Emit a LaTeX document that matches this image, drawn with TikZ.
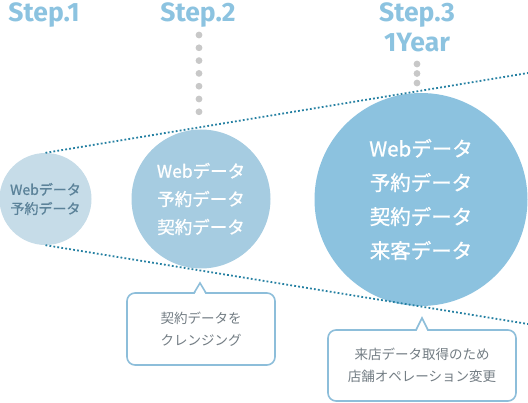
\documentclass[tikz,border=0pt]{standalone}
\usepackage{fontspec}
\setmainfont{Noto Sans CJK JP}
\newfontfamily\cjkmed{Noto Sans CJK JP}[FakeBold=0.9]
\newfontfamily\stepfont{Fira Sans}
\definecolor{steptxt}{HTML}{8CC3E0}
\definecolor{cA}{HTML}{C6DCE8}
\definecolor{cB}{HTML}{A6CCE1}
\definecolor{cC}{HTML}{8CC2DF}
\definecolor{tealdot}{HTML}{2580A2}
\definecolor{dotgray}{HTML}{C8C8C8}
\definecolor{txtA}{HTML}{5B8299}
\definecolor{boxline}{HTML}{8DBEDA}
\definecolor{boxtxt}{HTML}{737D84}
\begin{document}
\begin{tikzpicture}[x=1pt,y=-1pt,
  steplabel/.style={text=steptxt,font=\stepfont\bfseries\fontsize{26.5}{30}\selectfont,anchor=base,inner sep=0},
  datacircle/.style={circle,inner sep=0,align=center},
  grayball/.style={fill=dotgray},
  dotline/.style={draw=tealdot,line width=1.8pt,dash pattern=on 1.8pt off 2.2pt},
  callbox/.style={draw=boxline,line width=1.6pt,rounded corners=8pt,fill=white,text=boxtxt,align=center,inner sep=0,font=\fontsize{13.5}{21.5}\selectfont},
  pointer/.style={draw=boxline,line width=1.6pt,line join=miter}
]
\useasboundingbox (0,0) rectangle (528,403);

% step labels
\node[steplabel] (st1) at (44,22) {Step.1};
\node[steplabel] (st2) at (198,22) {Step.2};
\node[steplabel] (st3) at (417,22) {Step.3};
\node[steplabel] (yr) at (417,52) {1Year};

% grey dotted connectors
\foreach \i in {0,...,6} \fill[grayball] (199,35+\i*12.8) circle (3.4);
\foreach \i in {0,1,2} \fill[grayball] (417,64+\i*9.5) circle (3.4);

% circles
\node[datacircle,fill=cA,minimum size=92pt,text=txtA,font=\cjkmed\fontsize{14}{19}\selectfont] (s1) at (45.5,199) {Webデータ\\予約データ};
\node[datacircle,fill=cB,minimum size=139pt,text=white,font=\cjkmed\fontsize{17.5}{28}\selectfont] (s2) at (201,199) {Webデータ\\予約データ\\契約データ};
\node[datacircle,fill=cC,minimum size=213pt,text=white,font=\cjkmed\fontsize{20.5}{34}\selectfont] (s3) at (421,199.5) {Webデータ\\予約データ\\契約データ\\来客データ};

% dotted envelope lines
\coordinate (tr) at (528,73);
\coordinate (br) at (528,324);
\draw[dotline] (s1.north) -- (tr);
\draw[dotline] (s1.south) -- (br);

% callouts
\node[callbox,minimum width=148pt,minimum height=72pt] (b1) at (201,329) {契約データを\\クレンジング};
\fill[white] (194.6,294.2) -- (200,284) -- (205.4,294.2) -- cycle;
\draw[pointer] (194,293) -- (200,283) -- (206,293);

\node[callbox,minimum width=188pt,minimum height=71pt] (b2) at (422,365.5) {来店データ取得のため\\店舗オペレーション変更};
\fill[white] (416.6,331.2) -- (422,319) -- (427.4,331.2) -- cycle;
\draw[pointer] (416,330) -- (422,318) -- (428,330);
\end{tikzpicture}
\end{document}
